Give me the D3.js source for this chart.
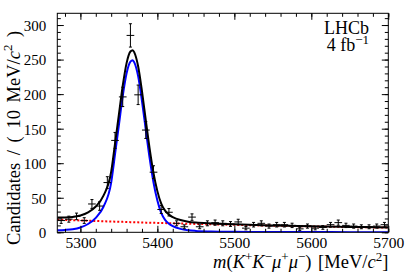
<!DOCTYPE html>
<html lang="en">

<head>
	<meta charset="UTF-8">
	<title>LHCb m(KKmumu)</title>
	<script type="text/javascript" src="https://cdn.jsdelivr.net/npm/d3@7/dist/d3.min.js" charset="UTF-8"></script>
	<style>
		body { margin: 0; background: #fff; }
		text { font-family: "Liberation Serif", "DejaVu Serif", serif; fill: #000; }
	</style>
</head>

<body>
	<script type="text/javascript">
	// bin centres (10 MeV bins) and candidate counts
	let binCentres = [5275, 5285, 5295, 5305, 5315, 5325, 5335, 5345, 5355, 5365,
		5375, 5385, 5395, 5405, 5415, 5425, 5435, 5445, 5455, 5465,
		5475, 5485, 5495, 5505, 5515, 5525, 5535, 5545, 5555, 5565,
		5575, 5585, 5595, 5605, 5615, 5625, 5635, 5645, 5655, 5665,
		5675, 5685, 5695]
	let counts = [17, 19, 23, 17, 41, 38, 72, 133, 196, 285,
		199, 148, 87, 33, 29, 13, 8, 22, 8, 13,
		14, 13, 12, 15, 6, 11, 13, 9, 11, 11,
		10, 5, 9, 6, 7, 11, 14, 10, 9, 8,
		8, 9, 11]

	// fit curves at these masses
	let curveMass = [5270, 5280, 5290, 5300, 5310, 5320, 5330, 5340, 5345, 5350,
		5355, 5360, 5365, 5368, 5370, 5375, 5380, 5385, 5390, 5395,
		5400, 5405, 5410, 5415, 5420, 5430, 5440, 5450, 5470, 5500,
		5550, 5600, 5650, 5700]
	let signalFit = [3, 3.5, 4.5, 7, 12, 21, 37, 72, 113, 155,
		197, 230, 247, 249, 246, 226, 190, 148, 107, 72,
		46, 28, 18, 12.5, 9, 5, 3, 2, 1.2, 0.7,
		0.4, 0.3, 0.25, 0.2]
	let backgroundFit = [18.4, 18.0, 17.6, 17.2, 16.8, 16.4, 16.0, 15.6, 15.4, 15.3,
		15.1, 14.9, 14.7, 14.6, 14.5, 14.4, 14.2, 14.0, 13.9, 13.7,
		13.6, 13.4, 13.3, 13.1, 13.0, 12.7, 12.4, 12.1, 11.6, 10.8,
		9.6, 8.6, 7.6, 6.8]
	let totalFit = [21.4, 21.5, 22.1, 24.2, 28.8, 37.4, 53, 87.6, 128.4, 170.3,
		212.1, 244.9, 261.7, 263.6, 260.5, 240.4, 204.2, 162, 120.9, 85.7,
		59.6, 41.4, 31.3, 25.6, 22, 17.7, 15.4, 14.1, 12.8, 11.5,
		10, 8.9, 7.85, 7]

	let xTicks = [5300, 5400, 5500, 5600, 5700]
	let yTicks = [0, 50, 100, 150, 200, 250, 300]

	let width = 409,
		height = 277;
	let frame = { left: 57.3, right: 388.3, top: 13.3, bottom: 232.3 }

	let svg = d3.select('body').append('svg')
		.attr('width', width)
		.attr('height', height)

	let x = d3.scaleLinear()
		.domain([5270, 5700])
		.range([frame.left, frame.right])

	let y = d3.scaleLinear()
		.domain([0, 317])
		.range([frame.bottom, frame.top])

	let binHalf = (x(5280) - x(5270)) / 2

	/* curves */
	function curveLine(vals) {
		return d3.line()
			.x((d, i) => x(curveMass[i]))
			.y(d => y(d))
			.curve(d3.curveMonotoneX)(vals)
	}

	svg.append('clipPath').attr('id', 'frameclip')
		.append('rect')
		.attr('x', frame.left).attr('y', frame.top)
		.attr('width', frame.right - frame.left)
		.attr('height', frame.bottom - frame.top)

	let plot = svg.append('g').attr('clip-path', 'url(#frameclip)')

	plot.append('path')
		.attr('d', curveLine(backgroundFit))
		.attr('fill', 'none')
		.attr('stroke', '#ff0000')
		.attr('stroke-width', 2)
		.attr('stroke-dasharray', '2,2')

	plot.append('path')
		.attr('d', curveLine(signalFit))
		.attr('fill', 'none')
		.attr('stroke', '#0000ff')
		.attr('stroke-width', 2)

	plot.append('path')
		.attr('d', curveLine(totalFit))
		.attr('fill', 'none')
		.attr('stroke', '#000')
		.attr('stroke-width', 2)

	/* data points with Poisson errors */
	let pts = plot.selectAll('g.pt')
		.data(counts)
		.enter()
		.append('g')
		.attr('class', 'pt')

	pts.append('line')
		.attr('x1', (d, i) => x(binCentres[i]))
		.attr('x2', (d, i) => x(binCentres[i]))
		.attr('y1', d => y(d + Math.sqrt(d)))
		.attr('y2', d => y(d - Math.sqrt(d)))
		.attr('stroke', '#000')
		.attr('stroke-width', 1)

	pts.append('line')
		.attr('x1', (d, i) => x(binCentres[i]) - binHalf)
		.attr('x2', (d, i) => x(binCentres[i]) + binHalf)
		.attr('y1', d => y(d))
		.attr('y2', d => y(d))
		.attr('stroke', '#000')
		.attr('stroke-width', 1)

	// small end caps
	pts.each(function (d, i) {
		let g = d3.select(this)
		let cx = x(binCentres[i])
		let err = Math.sqrt(d);
		[d + err, d - err].forEach(v => {
			g.append('line')
				.attr('x1', cx - 1.5).attr('x2', cx + 1.5)
				.attr('y1', y(v)).attr('y2', y(v))
				.attr('stroke', '#000').attr('stroke-width', 1)
		})
	})

	/* axes */
	let xMinor = d3.range(5280, 5701, 20)
	let yMinor = d3.range(0, 317, 10)

	svg.append('g')
		.attr('transform', `translate(0,${frame.bottom})`)
		.call(d3.axisTop(x).tickValues(xMinor).tickSize(3.5).tickFormat(''))
	svg.append('g')
		.attr('transform', `translate(0,${frame.top})`)
		.call(d3.axisBottom(x).tickValues(xMinor).tickSize(3.5).tickFormat(''))
	svg.append('g')
		.attr('transform', `translate(0,${frame.top})`)
		.call(d3.axisBottom(x).tickValues(xTicks).tickSize(6.5).tickFormat(''))
	let gx = svg.append('g')
		.attr('transform', `translate(0,${frame.bottom})`)
		.call(d3.axisBottom(x).tickValues(xTicks).tickSizeInner(-6.5).tickSizeOuter(0).tickFormat(d3.format('d')))

	svg.append('g')
		.attr('transform', `translate(${frame.left},0)`)
		.call(d3.axisRight(y).tickValues(yMinor).tickSize(3.5).tickFormat(''))
	svg.append('g')
		.attr('transform', `translate(${frame.right},0)`)
		.call(d3.axisLeft(y).tickValues(yMinor).tickSize(3.5).tickFormat(''))
	svg.append('g')
		.attr('transform', `translate(${frame.right},0)`)
		.call(d3.axisLeft(y).tickValues(yTicks).tickSize(6.5).tickFormat(''))
	let gy = svg.append('g')
		.attr('transform', `translate(${frame.left},0)`)
		.call(d3.axisLeft(y).tickValues(yTicks).tickSizeInner(-6.5).tickSizeOuter(0).tickPadding(11).tickFormat(d3.format('d')))

	svg.selectAll('.domain').remove()
	svg.selectAll('.tick line').attr('stroke', '#000').attr('stroke-width', 1)
	gx.selectAll('.tick text').attr('font-size', 15.5).attr('font-family', 'Liberation Serif')
		.attr('dy', 0).attr('y', 15.5)
	gy.selectAll('.tick text').attr('font-size', 15).attr('font-family', 'Liberation Serif')
		.attr('dy', '0.36em')

	svg.append('rect')
		.attr('x', frame.left).attr('y', frame.top)
		.attr('width', frame.right - frame.left)
		.attr('height', frame.bottom - frame.top)
		.attr('fill', 'none')
		.attr('stroke', '#000')
		.attr('stroke-width', 1)

	/* titles */
	let ytitle = svg.append('text')
		.attr('transform', 'translate(19.5,245) rotate(-90)')
		.attr('text-anchor', 'start')
		.attr('font-size', 18.5)
		.attr('word-spacing', 3)
	ytitle.append('tspan').text('Candidates / ( 10 MeV/')
	ytitle.append('tspan').attr('font-style', 'italic').text('c')
	ytitle.append('tspan').attr('font-size', 13).attr('dy', -7.5).text('2')
	ytitle.append('tspan').attr('dy', 7.5).text(' )')

	let xtitle = svg.append('text')
		.attr('x', frame.right)
		.attr('y', 267.5)
		.attr('text-anchor', 'end')
		.attr('font-size', 18.5)
		.attr('word-spacing', 2)
	let sup = (s) => xtitle.append('tspan').attr('font-size', 13).attr('dy', -6.5).text(s)
	xtitle.append('tspan').attr('font-style', 'italic').text('m')
	xtitle.append('tspan').text('(')
	xtitle.append('tspan').attr('font-style', 'italic').text('K')
	sup('+')
	xtitle.append('tspan').attr('font-style', 'italic').attr('dy', 6.5).text('K')
	sup('\u2212')
	xtitle.append('tspan').attr('font-style', 'italic').attr('dy', 6.5).text('\u03bc')
	sup('+')
	xtitle.append('tspan').attr('font-style', 'italic').attr('dy', 6.5).text('\u03bc')
	sup('\u2212')
	xtitle.append('tspan').attr('dy', 6.5).text(') [MeV/')
	xtitle.append('tspan').attr('font-style', 'italic').text('c')
	sup('2')
	xtitle.append('tspan').attr('dy', 6.5).text(']')

	svg.append('text')
		.attr('x', 369).attr('y', 34)
		.attr('text-anchor', 'end')
		.attr('font-size', 18)
		.text('LHCb')

	let lumi = svg.append('text')
		.attr('x', 369).attr('y', 51)
		.attr('text-anchor', 'end')
		.attr('font-size', 18)
	lumi.append('tspan').text('4 fb')
	lumi.append('tspan').attr('font-size', 13).attr('dy', -7.5).text('\u22121')
	</script>
</body>

</html>
